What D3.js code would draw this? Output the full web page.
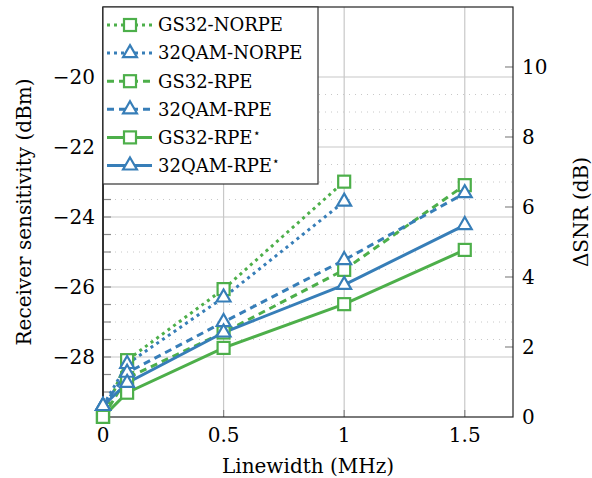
<!DOCTYPE html>
<html><head><meta charset="utf-8">
<script src="https://cdn.jsdelivr.net/npm/d3@7"></script>
<style>body{margin:0;background:#fff}svg{display:block}</style>
</head><body><svg id="c" width="592" height="478" font-family="'DejaVu Serif', serif"></svg>
<script>
const linewidth = [0, 0.1, 0.5, 1, 1.5];
const gs32NoRPE   = [-29.71, -28.09, -26.06, -22.99];
const qam32NoRPE  = [-29.40, -28.20, -26.30, -23.56];
const gs32RPE     = [-29.71, -28.60, -27.30, -25.51, -23.09];
const qam32RPE    = [-29.40, -28.45, -27.00, -25.23, -23.32];
const gs32RPEs    = [-29.71, -29.02, -27.74, -26.49, -24.94];
const qam32RPEs   = [-29.40, -28.74, -27.30, -25.94, -24.23];
const seriesNames = ["GS32-NORPE","32QAM-NORPE","GS32-RPE","32QAM-RPE","GS32-RPE","32QAM-RPE"];
const xTicks = [0, 0.5, 1, 1.5];
const yTicks = [-28, -26, -24, -22, -20];
const y2Ticks = [0, 2, 4, 6, 8, 10];

const green = "#4daf4a", blue = "#377eb8";
const series = [
  {name: seriesNames[0], vals: gs32NoRPE, color: green, dash: "3,4", mk: "sq", star:false},
  {name: seriesNames[1], vals: qam32NoRPE, color: blue, dash: "3,4", mk: "tri", star:false},
  {name: seriesNames[2], vals: gs32RPE, color: green, dash: "7,5", mk: "sq", star:false},
  {name: seriesNames[3], vals: qam32RPE, color: blue, dash: "7,5", mk: "tri", star:false},
  {name: seriesNames[4], vals: gs32RPEs, color: green, dash: null, mk: "sq", star:true},
  {name: seriesNames[5], vals: qam32RPEs, color: blue, dash: null, mk: "tri", star:true},
];

const L = 103, R = 513, T = 7, B = 417;
const x = d3.scaleLinear().domain([0, 1.7]).range([L, R]);
const y = d3.scaleLinear().domain([-29.714, -18]).range([B, T]);
const y2 = d3.scaleLinear().domain([0, 11.714]).range([B, T]);
const svg = d3.select("#c");

// minor grid
const minor = d3.range(-28, -20, 0.5).filter(v => Math.abs(v % 2) > 0.01);
svg.append("g").selectAll("line").data(minor).join("line")
  .attr("x1", L).attr("x2", R).attr("y1", d => y(d)).attr("y2", d => y(d))
  .attr("stroke", "#c8c8c8").attr("stroke-width", 1).attr("stroke-dasharray", "1,5");
// major grid
svg.append("g").selectAll("line").data(yTicks).join("line")
  .attr("x1", L).attr("x2", R).attr("y1", d => y(d)).attr("y2", d => y(d))
  .attr("stroke", "#c8c8c8").attr("stroke-width", 1.2);
svg.append("g").selectAll("line").data(xTicks.slice(1)).join("line")
  .attr("x1", d => x(d)).attr("x2", d => x(d)).attr("y1", T).attr("y2", B)
  .attr("stroke", "#c8c8c8").attr("stroke-width", 1.2);

// tick marks
const allLeft = d3.range(-29.5, -19.9, 0.5);
svg.append("g").selectAll("line").data(allLeft).join("line")
  .attr("x1", L).attr("x2", L + 8).attr("y1", d => y(d)).attr("y2", d => y(d))
  .attr("stroke", "#888").attr("stroke-width", 1.2);
svg.append("g").selectAll("line").data(y2Ticks.slice(1)).join("line")
  .attr("x1", R - 8).attr("x2", R).attr("y1", d => y2(d)).attr("y2", d => y2(d))
  .attr("stroke", "#888").attr("stroke-width", 1.2);
svg.append("g").selectAll("line").data(xTicks.slice(1)).join("line")
  .attr("x1", d => x(d)).attr("x2", d => x(d)).attr("y1", B - 7).attr("y2", B)
  .attr("stroke", "#888").attr("stroke-width", 1.2);

// frame
svg.append("rect").attr("x", L).attr("y", T).attr("width", R - L).attr("height", B - T)
  .attr("fill", "none").attr("stroke", "#222").attr("stroke-width", 1.2);
svg.append("line").attr("x1", L).attr("x2", L).attr("y1", T).attr("y2", B).attr("stroke", "#333").attr("stroke-width", 2);

// tick labels
const fs = 20;
const fmt = v => (v < 0 ? "\u2212" + Math.abs(v) : String(v));
svg.append("g").selectAll("text").data(yTicks).join("text")
  .attr("x", L - 8).attr("y", d => y(d)).attr("dy", "0.35em").attr("text-anchor", "end")
  .attr("font-size", fs).text(fmt);
svg.append("g").selectAll("text").data(y2Ticks).join("text")
  .attr("x", R + 9).attr("y", d => y2(d)).attr("dy", "0.35em").attr("text-anchor", "start")
  .attr("font-size", fs).text(d => d);
svg.append("g").selectAll("text").data(xTicks).join("text")
  .attr("x", d => x(d)).attr("y", 442).attr("text-anchor", "middle")
  .attr("font-size", fs).text(d => d);

// axis titles
svg.append("text").attr("transform", `translate(31,${(T+B)/2}) rotate(-90)`)
  .attr("text-anchor", "middle").attr("font-size", fs).text("Receiver sensitivity (dBm)");
svg.append("text").attr("transform", `translate(588,${(T+B)/2}) rotate(-90)`)
  .attr("text-anchor", "middle").attr("font-size", fs).text("\u0394SNR (dB)");
svg.append("text").attr("x", (L + R) / 2).attr("y", 473).attr("text-anchor", "middle")
  .attr("font-size", fs).text("Linewidth (MHz)");

// markers
function marker(g, mk, cx, cy, color) {
  if (mk === "sq") {
    g.append("rect").attr("x", cx - 6).attr("y", cy - 6).attr("width", 12).attr("height", 12)
      .attr("fill", "#fff").attr("stroke", color).attr("stroke-width", 2.2);
  } else {
    const r = 8;
    g.append("path").attr("d", `M${cx},${cy - r}L${cx + r * 0.866},${cy + r / 2}L${cx - r * 0.866},${cy + r / 2}Z`)
      .attr("fill", "#fff").attr("stroke", color).attr("stroke-width", 2.2).attr("stroke-linejoin", "miter");
  }
}

const line = d3.line().x(d => x(d[0])).y(d => y(d[1]));
const dataG = svg.append("g");
series.forEach(s => {
  const pts = s.vals.map((v, i) => [linewidth[i], v]);
  dataG.append("path").attr("d", line(pts)).attr("fill", "none").attr("stroke", s.color)
    .attr("stroke-width", 3).attr("stroke-dasharray", s.dash);
});
series.forEach(s => {
  const g = dataG.append("g");
  s.vals.forEach((v, i) => marker(g, s.mk, x(linewidth[i]), y(v), s.color));
});

// legend
const lg = svg.append("g");
lg.append("rect").attr("x", L).attr("y", T).attr("width", 215).attr("height", 177)
  .attr("fill", "#fff").attr("stroke", "#333").attr("stroke-width", 1.2);
series.forEach((s, i) => {
  const cy = 25 + i * 28.1;
  lg.append("line").attr("x1", 107).attr("x2", 152).attr("y1", cy).attr("y2", cy)
    .attr("stroke", s.color).attr("stroke-width", 3).attr("stroke-dasharray", s.dash);
  marker(lg, s.mk, 130, cy, s.color);
  const t = lg.append("text").attr("x", 158).attr("y", cy).attr("dy", "0.35em").attr("font-size", 18).text(s.name);
  if (s.star) t.append("tspan").attr("dy", "-0.55em").attr("font-size", 12).text("\u22C6");
});
</script></body></html>
